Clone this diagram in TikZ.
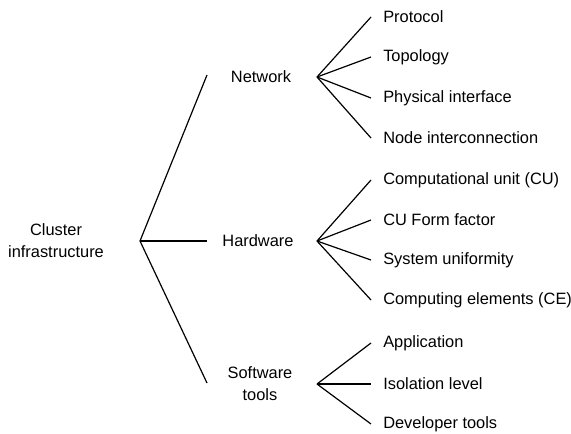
\documentclass[tikz,border=0pt]{standalone}
\usepackage{fontspec}
\setmainfont{Liberation Sans}
\begin{document}
\begin{tikzpicture}[x=0.75pt,y=-0.75pt,
  lbl/.style={font=\fontsize{12.3}{16.5}\selectfont, inner sep=0pt, align=center},
  leaf/.style={font=\fontsize{12.3}{16.5}\selectfont, inner sep=0pt, anchor=west},
  edge/.style={line width=0.9pt, black}]
\useasboundingbox (0,0) rectangle (571,433);
% labels
\node[lbl] (root) at (56,241) {Cluster\\infrastructure};
\node[lbl] (net) at (261,77) {Network};
\node[lbl] (hw) at (258,241) {Hardware};
\node[lbl] (sw) at (260,384) {Software\\tools};
\node[leaf] (l1) at (383,17) {Protocol};
\node[leaf] (l2) at (383,57) {Topology};
\node[leaf] (l3) at (383,98) {Physical interface};
\node[leaf] (l4) at (383,138) {Node interconnection};
\node[leaf] (l5) at (383,180) {Computational unit (CU)};
\node[leaf] (l6) at (383,220) {CU Form factor};
\node[leaf] (l7) at (383,260) {System uniformity};
\node[leaf] (l8) at (383,300) {Computing elements (CE)};
\node[leaf] (l9) at (383,343) {Application};
\node[leaf] (l10) at (383,384) {Isolation level};
\node[leaf] (l11) at (383,424) {Developer tools};
% junction and end coordinates
\coordinate (rj) at (140,241);
\coordinate (netin) at (207,75);
\coordinate (hwin) at (207,241);
\coordinate (swin) at (207,383);
\coordinate (nj) at (317,77);
\coordinate (hj) at (317,241);
\coordinate (sj) at (317,384);
\foreach \i/\y in {1/17,2/57,3/98,4/138,5/180,6/220,7/260,8/300,9/343,10/384,11/424}
  \coordinate (e\i) at (371,\y);
% connectors
\draw[edge] (netin) -- (rj) -- (swin);
\draw[edge] (rj) -- (hwin);
\foreach \i in {1,2,3,4} \draw[edge] (nj) -- (e\i);
\foreach \i in {5,6,7,8} \draw[edge] (hj) -- (e\i);
\foreach \i in {9,10,11} \draw[edge] (sj) -- (e\i);
\end{tikzpicture}
\end{document}
